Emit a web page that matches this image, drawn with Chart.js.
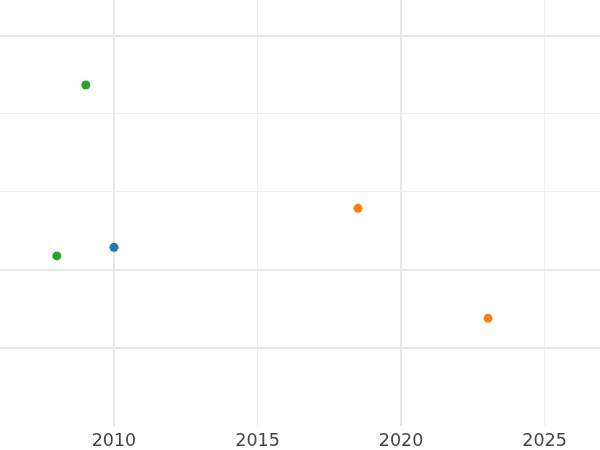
<!DOCTYPE html>
<html>
<head>
<meta charset="utf-8">
<script src="https://cdn.jsdelivr.net/npm/chart.js@4"></script>
<style>
  body { margin: 0; background: #fff; }
  #wrap { width: 600px; height: 450px; }
</style>
</head>
<body>
<div id="wrap"><canvas id="chart" width="600" height="450"></canvas></div>
<script>
// data
var xTicks = [2010, 2015, 2020, 2025];
var yTicks = [1, 2, 3, 4, 5];
var blueX = [2010];
var blueY = [2.29];
var orangeX = [2018.5, 2023.03];
var orangeY = [2.79, 1.38];
var greenX = [2009.02, 2008.01];
var greenY = [4.37, 2.18];

// major grid lines are drawn heavier
var xMajor = [2010, 2020];
var yMajor = [1, 2, 5];

function pts(xs, ys) {
  return xs.map(function (x, i) { return { x: x, y: ys[i] }; });
}

var ctx = document.getElementById('chart').getContext('2d');
new Chart(ctx, {
  type: 'scatter',
  data: {
    datasets: [
      { label: 'a', data: pts(blueX, blueY), backgroundColor: '#1f77b4', borderColor: '#1f77b4' },
      { label: 'b', data: pts(orangeX, orangeY), backgroundColor: '#ff7f0e', borderColor: '#ff7f0e' },
      { label: 'c', data: pts(greenX, greenY), backgroundColor: '#2ca02c', borderColor: '#2ca02c' }
    ]
  },
  options: {
    responsive: false,
    animation: false,
    layout: { padding: 0, autoPadding: false },
    elements: { point: { radius: 4.5, borderWidth: 0, hoverRadius: 4.5 } },
    plugins: {
      legend: { display: false },
      tooltip: { enabled: false }
    },
    scales: {
      x: {
        type: 'linear',
        min: 2006.03,
        max: 2026.93,
        afterBuildTicks: function (scale) {
          scale.ticks = xTicks.map(function (v) { return { value: v }; });
        },
        afterFit: function (scale) { scale.height = 24; },
        border: { display: false },
        grid: {
          drawTicks: false,
          color: function (c) { return xMajor.indexOf(c.tick.value) >= 0 ? '#e8e8e8' : '#f0f0f0'; },
          lineWidth: function (c) { return xMajor.indexOf(c.tick.value) >= 0 ? 2 : 1; }
        },
        ticks: {
          padding: 7,
          color: '#444',
          font: { family: 'DejaVu Sans', size: 17.5, lineHeight: 1 },
          maxRotation: 0,
          callback: function (v) { return String(v); }
        }
      },
      y: {
        type: 'linear',
        display: true,
        min: 0,
        max: 5.46,
        afterBuildTicks: function (scale) {
          scale.ticks = yTicks.map(function (v) { return { value: v }; });
        },
        border: { display: false },
        grid: {
          drawTicks: false,
          color: function (c) { return yMajor.indexOf(c.tick.value) >= 0 ? '#e8e8e8' : '#f0f0f0'; },
          lineWidth: function (c) { return yMajor.indexOf(c.tick.value) >= 0 ? 2 : 1; }
        },
        ticks: { display: false, padding: 0 }
      }
    }
  }
});
</script>
</body>
</html>
